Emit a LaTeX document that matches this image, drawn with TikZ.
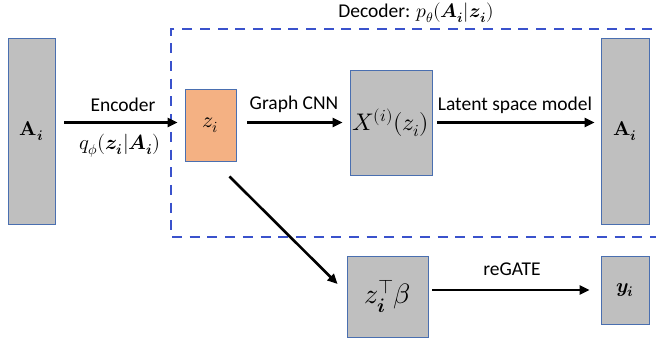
\documentclass[tikz,border=0pt]{standalone}
\usepackage{amsmath}
\usepackage{fontspec}
\usepackage{unicode-math}
\setmainfont{Carlito}
\setmathfont{Latin Modern Math}
\usetikzlibrary{arrows.meta,calc}

\definecolor{boxgray}{HTML}{BFBFBF}
\definecolor{boxedge}{HTML}{4A6FB0}
\definecolor{latent}{HTML}{F4B183}
\definecolor{decblue}{HTML}{3A52CC}

\newcommand{\fsz}[1]{\fontsize{#1}{#1}\selectfont}

\tikzset{
  block/.style={draw=boxedge, line width=0.9pt, fill=boxgray, inner sep=0pt,
                font=\fsz{20}},
  arr/.style={line width=2.6pt, -{Triangle[length=10pt,width=9pt]}},
  lbl/.style={font=\fsz{19.5}, inner sep=0pt},
  decoder/.style={draw=decblue, line width=2.3pt, dash pattern=on 10pt off 7.7pt}
}

\begin{document}
\begin{tikzpicture}[x=1pt, y=-1pt]
\useasboundingbox (0,0) rectangle (656,341);
\clip (0,0) rectangle (656,341);

% decoder frame, open to the right
\draw[decoder] (670,29) -- (171,29) -- (171,237) -- (670,237);
\node[lbl] (declbl) at (416,13) {Decoder: $p_\theta(\symbfit{A}_{\symbfit{i}}|\symbfit{z}_{\symbfit{i}})$};

% blocks
\node[block, minimum width=47pt, minimum height=186pt] (A1) at (31.5,131) {$\symbf{A}_{\symbfit{i}}$};
\node[block, fill=latent, minimum width=51pt, minimum height=72pt, font=\fsz{22}] (z) at (210.5,125) {$z_i$};
\node[block, minimum width=82pt, minimum height=105pt, font=\fsz{24}] (X) at (391,122.5) {$X^{(i)}(z_i)$};
\node[block, minimum width=48pt, minimum height=186pt] (A2) at (625,131) {$\symbf{A}_{\symbfit{i}}$};
\node[block, minimum width=81pt, minimum height=81pt, font=\fsz{28}] (zb) at (387.5,296.5) {$z_{\symbfit{i}}^{\top}\beta$};
\node[block, minimum width=48pt, minimum height=68pt] (y) at (625,290) {$\symbfit{y}_{\symbfit{i}}$};

% connectors
\draw[arr] ([xshift=9pt]A1.east |- X.west) -- ([xshift=-7pt]z.west |- X.west);
\draw[arr] ([xshift=11pt]z.east |- X.west) -- ([xshift=-7pt]X.west);
\draw[arr] ([xshift=5pt]X.east) -- ([xshift=-6pt]A2.west |- X.east);
\draw[arr] ([xshift=-7pt,yshift=-15pt]z.south east) -- ([xshift=-9pt,yshift=12.5pt]zb.west);
\draw[arr] ([xshift=4pt]zb.east |- y.west) -- ([xshift=-11pt]y.west);

% connector labels
\node[lbl] (enc) at (123,105) {Encoder};
\node[lbl, font=\fsz{20.5}] (q) at (120,146) {$q_\phi(\symbfit{z}_{\symbfit{i}}|\symbfit{A}_{\symbfit{i}})$};
\node[lbl] (gcnn) at (294,104) {Graph CNN};
\node[lbl] (lsm) at (515,105) {Latent space model};
\node[lbl] (reg) at (512,269) {reGATE};
\end{tikzpicture}
\end{document}
